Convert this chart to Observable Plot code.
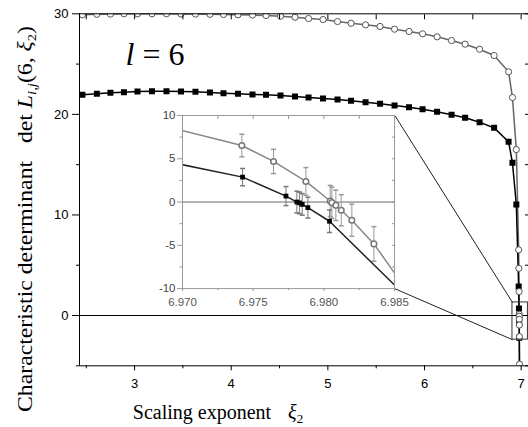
<!DOCTYPE html>
<html><head><meta charset="utf-8">
<script src="https://cdn.jsdelivr.net/npm/d3@7"></script>
<script src="https://cdn.jsdelivr.net/npm/@observablehq/plot@0.6"></script>
<style>
body{margin:0;background:#fff;}
#chart{position:relative;width:528px;height:427px;overflow:hidden;background:#fff;}
#chart svg{position:absolute;left:0;top:0;}
</style></head><body><div id="chart"></div>
<script>
// ---- main curves (coarse grid) ----
const xMain = [2.46, 2.61, 2.75, 2.89, 3.03, 3.18, 3.33, 3.48, 3.63, 3.78, 3.92, 4.07, 4.22, 4.36, 4.51, 4.66, 4.80, 4.95, 5.10, 5.24, 5.39, 5.54, 5.69, 5.84, 5.98, 6.13, 6.28, 6.42, 6.57, 6.72, 6.87, 6.91, 6.95];
const sqMain = [21.95, 22.04, 22.14, 22.2, 22.27, 22.3, 22.3, 22.27, 22.24, 22.17, 22.1, 22.04, 21.97, 21.94, 21.88, 21.78, 21.68, 21.58, 21.48, 21.35, 21.21, 21.05, 20.88, 20.71, 20.51, 20.25, 19.96, 19.66, 19.22, 18.66, 17.27, 15.18, 11.04];
const ciMain = [29.9, 29.95, 29.97, 30.0, 30.0, 30.0, 30.0, 29.98, 29.97, 29.95, 29.93, 29.9, 29.87, 29.83, 29.76, 29.66, 29.53, 29.43, 29.23, 29.06, 28.9, 28.74, 28.47, 28.24, 28.01, 27.71, 27.34, 26.98, 26.48, 25.85, 24.23, 21.68, 16.5];
// ---- fine points near the zero crossing (with error bars) ----
const sqFineX = [6.97425, 6.97732, 6.97809, 6.97828, 6.97847, 6.97887, 6.98040];
const sqFineY = [2.88, 0.69, 0.0, -0.1, -0.27, -0.65, -2.22];
const sqFineErr = [1.0, 1.1, 1.25, 1.25, 1.25, 1.2, 1.3];
const ciFineX = [6.9742, 6.97644, 6.97873, 6.98045, 6.98057, 6.98085, 6.98123, 6.98198, 6.98354];
const ciFineY = [6.53, 4.69, 2.38, 0.12, -0.07, -0.38, -0.95, -2.1, -4.84];
const ciFineErr = [1.3, 1.4, 1.6, 1.8, 1.8, 1.75, 1.8, 1.85, 2.0];
// next points beyond the plotted range
const sqTailX = [6.986], sqTailY = [-11.2];
const ciTailX = [6.986], ciTailY = [-10.5];
// ---- axes ----
const xDomain = [2.43, 7.076], yDomain = [-5, 30];
const xMajor = [3, 4, 5, 6, 7], xMinor = [2.5, 3.5, 4.5, 5.5, 6.5], xTop = [2.5, 3, 3.5, 4, 4.5, 5, 5.5, 6, 6.5, 7];
const yMajor = [0, 10, 20, 30], yMinor = [-5, 5, 15, 25], yRight = [-5, 0, 5, 10, 15, 20, 25, 30];
const ixDomain = [6.970, 6.985], iyDomain = [-10, 10];
const ixMajor = [6.970, 6.975, 6.980, 6.985], ixMinor = [6.9725, 6.9775, 6.9825];
const ixTop = [6.9725, 6.975, 6.9775, 6.980, 6.9825];
const iyMajor = [-10, -5, 0, 5, 10], iyMinor = [-7.5, -2.5, 2.5, 7.5];
const iyRight = [-7.5, -5, -2.5, 0, 2.5, 5, 7.5];
// inset placement (in main data units) and zoom box
const insetX = [3.5, 5.694], insetY = [2.66, 19.87];
const boxX = [6.91, 7.07], boxY = [-2.4, 1.3];

const sqX = [...xMain, ...sqFineX, ...sqTailX], sqY = [...sqMain, ...sqFineY, ...sqTailY];
const ciX = [...xMain, ...ciFineX, ...ciTailX], ciY = [...ciMain, ...ciFineY, ...ciTailY];
const sq = sqX.map((x, i) => ({x, y: sqY[i]}));
const ci = ciX.map((x, i) => ({x, y: ciY[i]}));
const sqErr = sqFineX.map((x, i) => ({x, y: sqFineY[i], lo: sqFineY[i] - sqFineErr[i], hi: sqFineY[i] + sqFineErr[i]}));
const ciErr = ciFineX.map((x, i) => ({x, y: ciFineY[i], lo: ciFineY[i] - ciFineErr[i], hi: ciFineY[i] + ciFineErr[i]}));
const box = [{x1: boxX[0], x2: boxX[1], y1: boxY[0], y2: boxY[1]}];
const conn = [
  {x1: insetX[1], y1: insetY[1], x2: boxX[0], y2: boxY[1]},
  {x1: insetX[1], y1: insetY[0], x2: boxX[0], y2: boxY[0]}
];
const sans = "'Liberation Sans', Arial, Helvetica, sans-serif";
const serif = "'Liberation Serif', 'Times New Roman', serif";
const blank = () => "";

const main = Plot.plot({
  width: 528, height: 427,
  marginLeft: 79, marginRight: 0, marginTop: 13.3, marginBottom: 61.7,
  x: {domain: xDomain}, y: {domain: yDomain},
  style: {fontFamily: sans, fontSize: "13px", color: "black", background: "white"},
  marks: [
    Plot.ruleY([0], {stroke: "black"}),
    Plot.line(ci, {x: "x", y: "y", stroke: "#666", clip: true}),
    Plot.line(sq, {x: "x", y: "y", stroke: "black", clip: true}),
    Plot.dot(sq, {x: "x", y: "y", symbol: "square", r: 3.4, fill: "black", clip: true}),
    Plot.dot(ci, {x: "x", y: "y", symbol: "circle", r: 3.1, fill: "white", stroke: "#555", strokeWidth: 1, clip: true}),
    Plot.rect(box, {x1: "x1", x2: "x2", y1: "y1", y2: "y2", fill: "none", stroke: "#333"}),
    Plot.link(conn, {x1: "x1", y1: "y1", x2: "x2", y2: "y2", stroke: "#222"}),
    Plot.ruleX([xDomain[0]], {stroke: "black"}),
    Plot.ruleY([yDomain[0], yDomain[1]], {stroke: "black"}),
    Plot.axisX({ticks: xMajor, anchor: "bottom", tickSize: 5, tickPadding: 8, tickFormat: d => String(d), label: null}),
    Plot.axisX({ticks: xMinor, anchor: "bottom", tickSize: 3, tickFormat: blank, label: null}),
    Plot.axisX({ticks: xTop, anchor: "top", tickSize: -5, tickFormat: blank, label: null}),
    Plot.axisY({ticks: yMajor, anchor: "left", tickSize: 7, tickPadding: 4, tickFormat: d => String(d), label: null}),
    Plot.axisY({ticks: yMinor, anchor: "left", tickSize: 3, tickFormat: blank, label: null}),
    Plot.axisY({ticks: yRight, anchor: "right", tickSize: -4, tickFormat: blank, label: null})
  ]
});
document.getElementById("chart").appendChild(main);

// texts
const svg = d3.select(main);
const yl = svg.append("text")
  .attr("transform", "translate(32,219) rotate(-90)")
  .attr("text-anchor", "middle")
  .attr("font-family", serif).attr("font-size", 21)
  .attr("textLength", 386).attr("lengthAdjust", "spacingAndGlyphs")
  .style("white-space", "pre").attr("fill", "black");
yl.append("tspan").text("Characteristic determinant   det ");
yl.append("tspan").attr("font-style", "italic").text("L");
yl.append("tspan").attr("font-style", "italic").attr("font-size", 13).attr("dy", 4).text("i,j");
yl.append("tspan").attr("dy", -4).text("(6, ");
yl.append("tspan").attr("font-style", "italic").text("ξ");
yl.append("tspan").attr("font-size", 13).attr("dy", 4).text("2");
yl.append("tspan").attr("dy", -4).text(")");

const xl = svg.append("text")
  .attr("x", 218).attr("y", 419)
  .attr("font-family", serif).attr("font-size", 20).attr("fill", "black");
xl.append("tspan").text("Scaling exponent");
xl.append("tspan").attr("dx", 17).attr("font-style", "italic").text("ξ");
xl.append("tspan").attr("font-size", 13).attr("dy", 4).text("2");

const lt = svg.append("text")
  .attr("x", 155).attr("y", 65)
  .attr("font-family", serif).attr("font-size", 32).attr("fill", "black")
  .style("white-space", "pre");
lt.append("tspan").attr("font-style", "italic").text("l");
lt.append("tspan").text(" = 6");

// inset
const sx = main.scale("x"), sy = main.scale("y");
const L = sx.apply(insetX[0]), R = sx.apply(insetX[1]);
const T = sy.apply(insetY[1]), B = sy.apply(insetY[0]);
const ML = 40, MR = 24, MT = 12, MB = 24;
const cap = {draw(ctx) { ctx.moveTo(-2.5, 0); ctx.lineTo(2.5, 0); }};
const inset = Plot.plot({
  width: (R - L) + ML + MR, height: (B - T) + MT + MB,
  marginLeft: ML, marginRight: MR, marginTop: MT, marginBottom: MB,
  x: {domain: ixDomain}, y: {domain: iyDomain},
  style: {fontFamily: sans, fontSize: "11.5px", background: "transparent", color: "#444", overflow: "visible"},
  marks: [
    Plot.ruleY([0], {stroke: "#666"}),
    Plot.ruleX(sqErr, {x: "x", y1: "lo", y2: "hi", stroke: "#777"}),
    Plot.ruleX(ciErr, {x: "x", y1: "lo", y2: "hi", stroke: "#999"}),
    Plot.dot(sqErr, {x: "x", y: "lo", symbol: cap, fill: "none", stroke: "#777"}),
    Plot.dot(sqErr, {x: "x", y: "hi", symbol: cap, fill: "none", stroke: "#777"}),
    Plot.dot(ciErr, {x: "x", y: "lo", symbol: cap, fill: "none", stroke: "#999"}),
    Plot.dot(ciErr, {x: "x", y: "hi", symbol: cap, fill: "none", stroke: "#999"}),
    Plot.line(ci, {x: "x", y: "y", stroke: "#888", clip: true}),
    Plot.line(sq, {x: "x", y: "y", stroke: "#222", clip: true}),
    Plot.dot(sq, {x: "x", y: "y", symbol: "square", r: 2.7, fill: "black", clip: true}),
    Plot.dot(ci, {x: "x", y: "y", symbol: "circle", r: 2.8, fill: "white", stroke: "#777", clip: true}),
    Plot.frame({stroke: "#999"}),
    Plot.axisX({ticks: ixMajor, anchor: "bottom", tickSize: 3, tickPadding: 6, tickFormat: d3.format(".3f"), stroke: "#999", fill: "#555", label: null}),
    Plot.axisX({ticks: ixMinor, anchor: "bottom", tickSize: 2, tickFormat: blank, stroke: "#999", label: null}),
    Plot.axisX({ticks: ixTop, anchor: "top", tickSize: -3, tickFormat: blank, stroke: "#999", label: null}),
    Plot.axisY({ticks: iyMajor, anchor: "left", tickSize: 5, tickPadding: 2, tickFormat: d => String(d), stroke: "#999", fill: "#444", label: null}),
    Plot.axisY({ticks: iyMinor, anchor: "left", tickSize: 2.5, tickFormat: blank, stroke: "#999", label: null}),
    Plot.axisY({ticks: iyRight, anchor: "right", tickSize: -3, tickFormat: blank, stroke: "#999", label: null})
  ]
});
inset.style.left = (L - ML) + "px";
inset.style.top = (T - MT) + "px";
document.getElementById("chart").appendChild(inset);
</script></body></html>
